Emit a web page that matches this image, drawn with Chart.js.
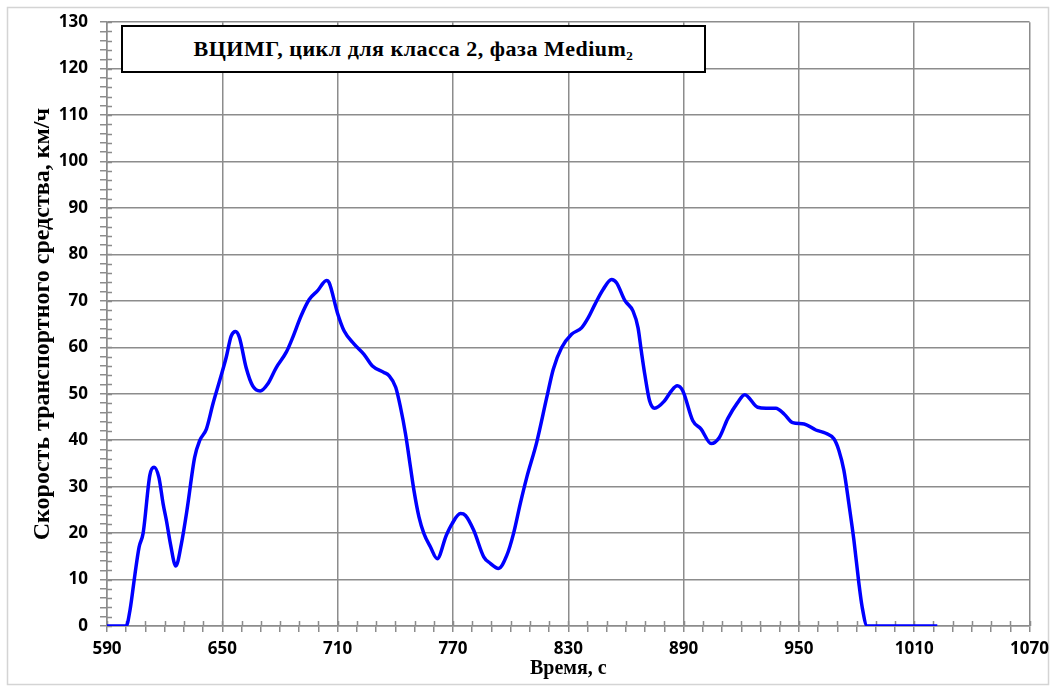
<!DOCTYPE html>
<html>
<head>
<meta charset="utf-8">
<script src="https://cdn.jsdelivr.net/npm/chart.js@4.4.1/dist/chart.umd.min.js"></script>
<style>
  body { margin: 0; background: #fff; }
  #wrap { position: relative; width: 1056px; height: 686px; }
  #box {
    position: absolute; left: 121px; top: 25px; width: 581px; height: 44px;
    border: 2px solid #000; background: #fff;
    font: bold 22px "Liberation Serif", "Times New Roman", serif;
    letter-spacing: 0.5px;
    display: flex; align-items: center; justify-content: center;
  }
</style>
</head>
<body>
<div id="wrap">
  <canvas id="chart" width="1056" height="686"></canvas>
  <div id="box">ВЦИМГ, цикл для класса 2, фаза Medium₂</div>
</div>
<script>
const chartEl = document.getElementById("chart");

// Time, s
const times = [
  590, 600, 602, 604.5, 606.7, 608.8, 612.3, 614.5, 617, 619.2, 621, 623, 625.8,
  628.7, 631.6, 635.6, 638.2, 641.7, 645.1, 648.6, 652, 654.6, 656.9, 658.9, 662.4,
  665.8, 669.7, 673.6, 678, 683.2, 686.6, 690.9, 695.2, 699.6, 704.2, 705.6, 709.9,
  713.4, 718.6, 723.7, 728.1, 734.1, 736.7, 740.2, 742.7, 745.3, 747.9, 749.7, 752.3,
  754.9, 758.3, 761.8, 766.5, 769.5, 773.9, 776.5, 780.8, 786, 789.4, 793.7, 798,
  801.5, 805, 808.4, 813.6, 818.8, 822.2, 826.5, 831.7, 836.9, 840.4, 843.8, 848.2,
  852.5, 855.1, 859.4, 863.7, 866.3, 868, 869.8, 872.3, 874.9, 880.1, 883.6, 886.7,
  889.6, 894.8, 899.1, 904.3, 908.6, 912.9, 918.1, 921.8, 928.5, 933, 938, 942.4,
  946.7, 952.7, 958.8, 964, 968.2, 970.8, 973.4, 976, 978.6, 981.2, 982.9, 985.5, 1022
];

// Vehicle speed, km/h
const speeds = [
  0, 0, 3.5, 11, 17, 20, 32.5, 34.2, 32, 26.3, 22.5, 17.7, 12.9,
  17.7, 24.9, 36.3, 39.9, 42.4, 47.8, 52.8, 57.8, 62.4, 63.4, 62.1, 55.6,
  51.7, 50.6, 52.1, 55.6, 58.9, 62.1, 66.7, 70.3, 72.2, 74.4, 73.9, 67.4,
  63.5, 60.7, 58.5, 56, 54.6, 53.9, 51.4, 47.1, 41.4, 34.2, 29.2, 23.5,
  19.9, 17, 14.5, 19.5, 22, 24.2, 23.8, 20.6, 14.9, 13.5, 12.4, 15.2,
  19.9, 26.3, 32, 39.6, 49.2, 55.3, 59.9, 62.8, 64.2, 66.4, 69.2, 72.5,
  74.6, 73.9, 70.1, 67.8, 64.2, 59.2, 54.2, 48.5, 46.9, 48.5, 50.6, 51.7,
  50.6, 44.2, 42.4, 39.3, 40.6, 44.6, 48.1, 49.8, 47.1, 46.9, 46.9, 45.6,
  43.8, 43.5, 42.2, 41.5, 40.3, 37.8, 33.5, 26.3, 18.5, 9.2, 4.1, 0, 0
];

// Axis ranges
const xMin = 590, xMax = 1070, xStep = 10, xLabelStep = 60;
const yMin = 0, yMax = 130, yStep = 2, yLabelStep = 10;

const gridGray = "#8c8c8c";
const tickFont = { family: "'Open Sans', sans-serif", size: 17, weight: "bold" };
const titleFont = { family: "'Liberation Serif', serif", weight: "bold" };

// Outer frame of the chart
const framePlugin = {
  id: "frame",
  beforeDraw(chart) {
    const ctx = chart.ctx;
    ctx.save();
    ctx.fillStyle = "#fff";
    ctx.fillRect(0, 0, chart.width, chart.height);
    ctx.strokeStyle = "#d4d4d4";
    ctx.lineWidth = 1.5;
    ctx.strokeRect(7.5, 7.5, 1041, 677);
    ctx.restore();
  },
  // small tick parts inside the plot area
  beforeDatasetsDraw(chart) {
    const { ctx, scales } = chart;
    const xs = scales.x, ys = scales.y;
    ctx.save();
    ctx.strokeStyle = gridGray;
    ctx.lineWidth = 1.5;
    ctx.beginPath();
    xs.ticks.forEach((t) => {
      const px = Math.round(xs.getPixelForValue(t.value)) + 0.5;
      ctx.moveTo(px, ys.bottom);
      ctx.lineTo(px, ys.bottom - 5);
    });
    ys.ticks.forEach((t) => {
      const py = Math.round(ys.getPixelForValue(t.value)) + 0.5;
      ctx.moveTo(xs.left, py);
      ctx.lineTo(xs.left + 5, py);
    });
    ctx.stroke();
    ctx.restore();
  },
};

let myChart = new Chart(chartEl, {
  type: "line",
  plugins: [framePlugin],
  data: {
    datasets: [
      {
        data: times.map((t, i) => ({ x: t, y: speeds[i] })),
        borderColor: "#0000ff",
        borderWidth: 3.5,
        pointRadius: 0,
        cubicInterpolationMode: "monotone",
        fill: false,
      },
    ],
  },
  options: {
    responsive: false,
    animation: false,
    devicePixelRatio: 1,
    layout: { padding: { left: 28, top: 19, right: 24, bottom: 5 } },
    plugins: { legend: { display: false }, tooltip: { enabled: false } },
    scales: {
      x: {
        type: "linear",
        min: xMin,
        max: xMax,
        afterFit: (s) => { s.height = 686 - 626 - 5; },
        ticks: {
          stepSize: xStep,
          autoSkip: false,
          maxRotation: 0,
          padding: 7,
          color: "#000",
          font: tickFont,
          callback: (v) => ((v - xMin) % xLabelStep === 0 ? v : ""),
        },
        grid: {
          color: (c) => (c.tick && (c.tick.value - xMin) % xLabelStep === 0 ? gridGray : "transparent"),
          lineWidth: 1.5,
          tickColor: gridGray,
          tickLength: 6,
        },
        border: { color: gridGray, width: 1.5 },
        title: {
          display: true,
          text: "Время, с",
          color: "#000",
          font: { ...titleFont, size: 20 },
          padding: 0,
        },
      },
      y: {
        min: yMin,
        max: yMax,
        afterFit: (s) => { s.width = 107 - 28; },
        ticks: {
          stepSize: yStep,
          autoSkip: false,
          padding: 12,
          color: "#000",
          font: tickFont,
          callback: (v) => (v % yLabelStep === 0 ? v : ""),
        },
        grid: {
          color: (c) => (c.tick && c.tick.value % yLabelStep === 0 ? gridGray : "transparent"),
          lineWidth: 1.5,
          tickColor: gridGray,
          tickLength: 7,
        },
        border: { color: gridGray, width: 1.5 },
        title: {
          display: true,
          text: "Скорость транспортного средства, км/ч",
          color: "#000",
          font: { ...titleFont, size: 24 },
          padding: 0,
        },
      },
    },
  },
});
</script>
</body>
</html>
